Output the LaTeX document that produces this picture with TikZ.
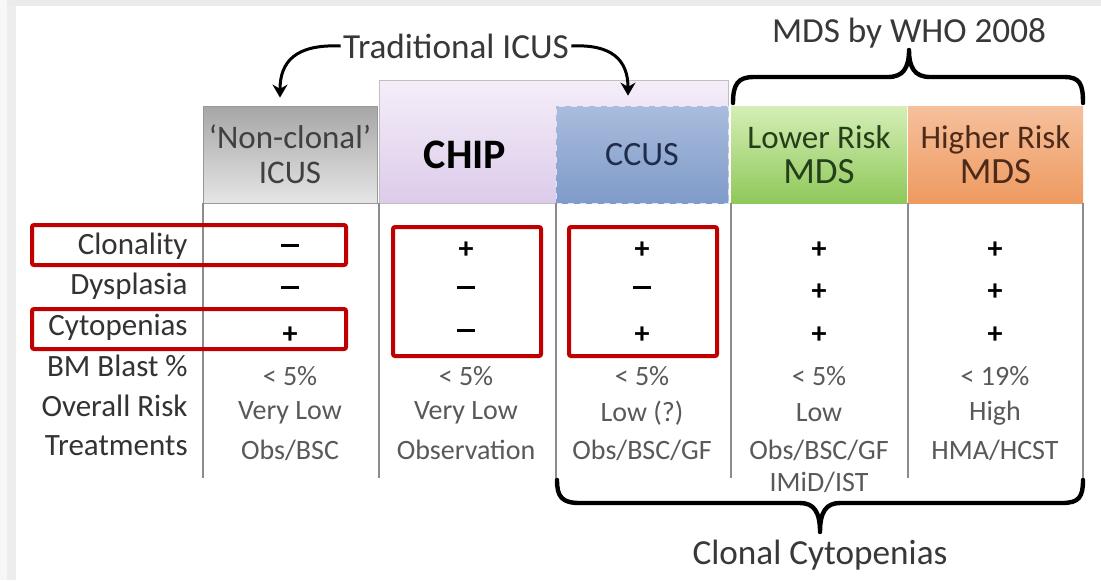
\documentclass[tikz,border=0pt]{standalone}
\usepackage{fontspec}
\setmainfont{Carlito}
\usetikzlibrary{arrows.meta}

\definecolor{redline}{HTML}{C00000}
\definecolor{gridgray}{HTML}{8C8C8C}
\definecolor{ccustop}{HTML}{A9BCDD}
\definecolor{ccusbot}{HTML}{7F9BC8}
\definecolor{lowtop}{HTML}{D5EEB6}
\definecolor{lowbot}{HTML}{8FC85A}
\definecolor{hightop}{HTML}{F6C09C}
\definecolor{highbot}{HTML}{EE9A60}
\definecolor{chiptop}{HTML}{F5EEF9}
\definecolor{chipbot}{HTML}{DCCBEA}
\definecolor{ccustext}{HTML}{1F2D4A}
\definecolor{lowtext}{HTML}{23401A}
\definecolor{hightext}{HTML}{4E2A18}

\newcommand{\minussign}{\rule[0.28em]{9pt}{1.6pt}}

\begin{document}
\begin{tikzpicture}[x=0.5pt, y=-0.5pt,
  rowlab/.style={anchor=east, inner sep=0pt, text=black!80, font=\fontsize{15.5}{18}\selectfont},
  val/.style={inner sep=0pt, text=black!65, font=\fontsize{14}{16}\selectfont},
  sign/.style={inner sep=0pt, font=\fontsize{15}{16}\selectfont\bfseries},
  toptxt/.style={inner sep=1pt, text=black!78, font=\fontsize{17.6}{20}\selectfont},
  headbox/.style={inner sep=0pt, align=center, minimum height=48.5pt, font=\fontsize{16.5}{18.5}\selectfont},
  colline/.style={gridgray, line width=0.6pt},
  redbox/.style={draw=redline, line width=2pt, rounded corners=1pt},
  brace/.style={line width=2.2pt, line cap=round, line join=round},
  curvearrow/.style={line width=1.5pt, -{Stealth[length=6.5pt, width=7.5pt]}}]
\useasboundingbox (0,0) rectangle (1101,580);
\fill[white] (0,0) rectangle (1101,580);
\fill[black!8] (0,0) rectangle (1101,6);
\fill[black!3] (0,0) rectangle (7,580);
\fill[black!7] (7,6) rectangle (16,580);
% header boxes
\node[draw=black!25, top color=chiptop, bottom color=chipbot, minimum width=174.5pt, minimum height=61.5pt, inner sep=0pt] (chipbox) at (553.5,141.5) {};
\node[headbox, draw=black!40, text=black!75, top color=black!35, bottom color=black!10, minimum width=87pt] (noncl) at (290,154.5) {`Non-clonal'\\[-1pt]ICUS};
\node[inner sep=0pt, font=\fontsize{21}{24}\selectfont\bfseries] (chip) at (465,155) {CHIP};
\node[headbox, draw=blue!12!white, dashed, text=ccustext, top color=ccustop, bottom color=ccusbot, minimum width=86pt, font=\fontsize{17}{19}\selectfont] (ccus) at (642,154.5) {CCUS};
\node[headbox, text=lowtext, top color=lowtop, bottom color=lowbot, minimum width=88pt] (lower) at (819,154.5) {Lower Risk\\[-1pt]{\fontsize{18.5}{19}\selectfont MDS}};
\node[headbox, text=hightext, top color=hightop, bottom color=highbot, minimum width=87.5pt] (higher) at (995.5,154.5) {Higher Risk\\[-1pt]{\fontsize{18.5}{19}\selectfont MDS}};
% column lines
\draw[colline] (203,203) -- (203,478);
\draw[colline] (379,203) -- (379,478);
\draw[colline] (556,203) -- (556,478);
\draw[colline] (731,203) -- (731,478);
\draw[colline] (908,203) -- (908,478);
\draw[colline] (1083,203) -- (1083,478);
% row labels
\node[rowlab] (clon) at (188,246) {Clonality};
\node[rowlab] (dysp) at (188,286) {Dysplasia};
\node[rowlab] (cyto) at (188,327) {Cytopenias};
\node[rowlab] (blast) at (188,366) {BM Blast \%};
\node[rowlab] (risk) at (188,406) {Overall Risk};
\node[rowlab] (treat) at (188,446) {Treatments};
% non-clonal icus
\node[sign] (ncclon) at (290,250) {\minussign};
\node[sign] (ncdysp) at (290,292) {\minussign};
\node[sign] (nccyto) at (290,335) {+};
\node[val] (ncblast) at (290,376) {< 5\%};
\node[val] (ncrisk) at (290,413) {Very Low};
\node[val] (nctreat) at (290,450) {Obs/BSC};
% chip
\node[sign] (chclon) at (466,250) {+};
\node[sign] (chdysp) at (466,292) {\minussign};
\node[sign] (chcyto) at (466,335) {\minussign};
\node[val] (chblast) at (466,376) {< 5\%};
\node[val] (chrisk) at (466,413) {Very Low};
\node[val] (chtreat) at (466,450) {Observation};
% ccus
\node[sign] (ccclon) at (642,250) {+};
\node[sign] (ccdysp) at (642,292) {\minussign};
\node[sign] (cccyto) at (642,335) {+};
\node[val] (ccblast) at (642,376) {< 5\%};
\node[val] (ccrisk) at (642,413) {Low (?)};
\node[val] (cctreat) at (642,450) {Obs/BSC/GF};
% lower risk mds
\node[sign] (loclon) at (819,250) {+};
\node[sign] (lodysp) at (819,292) {+};
\node[sign] (locyto) at (819,335) {+};
\node[val] (loblast) at (819,376) {< 5\%};
\node[val] (lorisk) at (819,413) {Low};
\node[val] (lotreat) at (819,450) {Obs/BSC/GF};
\node[val] (lotreatb) at (819,482) {IMiD/IST};
% higher risk mds
\node[sign] (hiclon) at (995,250) {+};
\node[sign] (hidysp) at (995,292) {+};
\node[sign] (hicyto) at (995,335) {+};
\node[val] (hiblast) at (995,376) {< 19\%};
\node[val] (hirisk) at (995,413) {High};
\node[val] (hitreat) at (995,450) {HMA/HCST};
% red highlights
\draw[redbox] (32,225) rectangle (346,265);
\draw[redbox] (32,309) rectangle (346,349);
\draw[redbox] (393,227) rectangle (541,356);
\draw[redbox] (569,227) rectangle (717,356);
% top labels and arrows
\node[toptxt] (trad) at (456,46) {Traditional ICUS};
\node[toptxt] (who) at (909,33) {MDS by WHO 2008};
\node[toptxt] (clonal) at (820,555) {Clonal Cytopenias};
\draw[curvearrow] (trad.west) .. controls +(-45,-2) and +(0,-36) .. ([xshift=-5pt, yshift=4pt]noncl.north);
\draw[curvearrow] (trad.east) .. controls +(40,-2) and +(0,-36) .. ([xshift=-7pt, yshift=5pt]ccus.north);
% braces
\draw[brace] (733,103) .. controls (733,84) and (738,77) .. (754,77) -- (888,77)
  .. controls (903,77) and (909,68) .. (909,50) .. controls (909,68) and (915,77) .. (930,77)
  -- (1064,77) .. controls (1080,77) and (1083,84) .. (1083,103);
\draw[brace] (557,480) .. controls (557,497) and (562,503) .. (580,503) -- (800,503)
  .. controls (814,503) and (820,512) .. (820,532) .. controls (820,512) and (826,503) .. (840,503)
  -- (1062,503) .. controls (1079,503) and (1083,497) .. (1083,480);
\end{tikzpicture}
\end{document}
